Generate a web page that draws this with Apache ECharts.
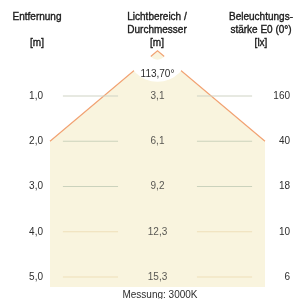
<!DOCTYPE html>
<html>
<head>
<meta charset="utf-8">
<script src="https://cdn.jsdelivr.net/npm/echarts@6/dist/echarts.min.js"></script>
<style>
html,body{margin:0;padding:0;background:#fff;}
#c{width:308px;height:299px;}
</style>
</head>
<body>
<div id="c"></div>
<script>
// ---- data ----
const distances = [1, 2, 3, 4, 5];            // Entfernung [m]
const diameters = [3.1, 6.1, 9.2, 12.3, 15.3]; // Lichtbereich / Durchmesser [m]
const illuminance = [160, 40, 18, 10, 6];      // Beleuchtungsstärke E0 (0°) [lx]
const beamAngle = 113.70;
const headerLeft = ['Entfernung', '', '[m]'];
const headerCenter = ['Lichtbereich /', 'Durchmesser', '[m]'];
const headerRight = ['Beleuchtungs-', 'stärke E0 (0°)', '[lx]'];
const footer = 'Messung: 3000K';

// ---- styling ----
const FONT = '"Liberation Sans", Arial, sans-serif';
const fill = '#f9f4de';
const edge = '#f2a272';
const lineColors = ['#cfd3c4', '#cbd2bc', '#cbd2bc', '#eedfb8', '#eedfb8'];
const fmt = v => v.toFixed(1).replace('.', ',');
const DMAX = 5.22;
const VAL_COLOR = '#2e2e2e';

const chart = echarts.init(document.getElementById('c'), null, {renderer: 'canvas'});

function headerText(lines, x) {
  const ys = [17, 30, 43];
  const out = [];
  lines.forEach((t, i) => {
    if (!t) return;
    out.push({
      type: 'text', x: x, y: ys[i],
      style: {text: t, font: '10px ' + FONT, fill: '#1a1a1a', stroke: '#1a1a1a', lineWidth: 0.35,
              align: 'center', verticalAlign: 'middle'}
    });
  });
  return out;
}

const option = {
  animation: false,
  backgroundColor: '#fff',
  grid: {left: 50, right: 43, top: 50.75, height: 45.25 * DMAX},
  xAxis: {type: 'value', min: -1, max: 1, show: false},
  yAxis: [
    {
      type: 'value', inverse: true, min: 0, max: DMAX, interval: 1, position: 'left',
      axisLine: {show: false}, axisTick: {show: false}, splitLine: {show: false},
      axisLabel: {
        margin: 7, fontSize: 10, fontFamily: FONT, color: VAL_COLOR,
        showMinLabel: false, showMaxLabel: false,
        formatter: v => distances.indexOf(v) >= 0 ? fmt(v) : ''
      }
    },
    {
      type: 'value', inverse: true, min: 0, max: DMAX, interval: 1, position: 'right',
      axisLine: {show: false}, axisTick: {show: false}, splitLine: {show: false},
      axisLabel: {
        margin: 25, align: 'right', fontSize: 10, fontFamily: FONT, color: VAL_COLOR,
        showMinLabel: false, showMaxLabel: false,
        formatter: v => { const i = distances.indexOf(v); return i >= 0 ? String(illuminance[i]) : ''; }
      }
    }
  ],
  series: [
    {
      // light cone
      type: 'custom', z: 1, silent: true,
      data: [[0, 0]],
      renderItem: (params, api) => {
        const apex = api.coord([0, 0]);
        const lk = api.coord([-1, 2]), rk = api.coord([1, 2]);
        const lb = api.coord([-1, DMAX]), rb = api.coord([1, DMAX]);
        return {
          type: 'group',
          children: [
            {type: 'polygon', shape: {points: [apex, lk, lb, rb, rk]}, style: {fill: fill}},
            {type: 'polyline', shape: {points: [lk, apex, rk]}, style: {stroke: edge, lineWidth: 1.2, fill: null}}
          ]
        };
      }
    },
    {
      // guide lines
      type: 'custom', z: 2, silent: true,
      data: distances.map(d => [0, d]),
      renderItem: (params, api) => {
        const d = api.value(1);
        const a = api.coord([-0.88, d]), b = api.coord([-0.367, d]);
        const c = api.coord([0.367, d]), e = api.coord([0.88, d]);
        const col = lineColors[params.dataIndex];
        return {
          type: 'group',
          children: [
            {type: 'line', shape: {x1: a[0], y1: a[1], x2: b[0], y2: b[1]}, style: {stroke: col, lineWidth: 1}},
            {type: 'line', shape: {x1: c[0], y1: c[1], x2: e[0], y2: e[1]}, style: {stroke: col, lineWidth: 1}}
          ]
        };
      }
    },
    {
      // white gap with beam angle
      type: 'custom', z: 3, silent: true,
      data: [[0, 0]],
      renderItem: (params, api) => {
        const apex = api.coord([0, 0]);
        return {
          type: 'group',
          children: [
            {type: 'sector', shape: {cx: apex[0], cy: apex[1], r0: 9, r: 31, startAngle: 0, endAngle: Math.PI, clockwise: true}, style: {fill: '#fff'}},
            {type: 'text', x: apex[0], y: apex[1] + 23, style: {text: beamAngle.toFixed(2).replace('.', ',') + '°', font: '10px ' + FONT, fill: VAL_COLOR, align: 'center', verticalAlign: 'middle'}}
          ]
        };
      }
    },
    {
      // diameters
      type: 'scatter', z: 4, silent: true, symbolSize: 0,
      data: distances.map((d, i) => [0, d, diameters[i]]),
      label: {
        show: true, position: 'inside', fontSize: 10, fontFamily: FONT, color: VAL_COLOR,
        formatter: p => fmt(p.value[2])
      }
    }
  ],
  graphic: [].concat(
    headerText(headerLeft, 37),
    headerText(headerCenter, 157),
    headerText(headerRight, 261),
    [{type: 'text', x: 160, y: 295, style: {text: footer, font: '10px ' + FONT, fill: VAL_COLOR, align: 'center', verticalAlign: 'middle'}}]
  )
};
chart.setOption(option);
</script>
</body>
</html>
